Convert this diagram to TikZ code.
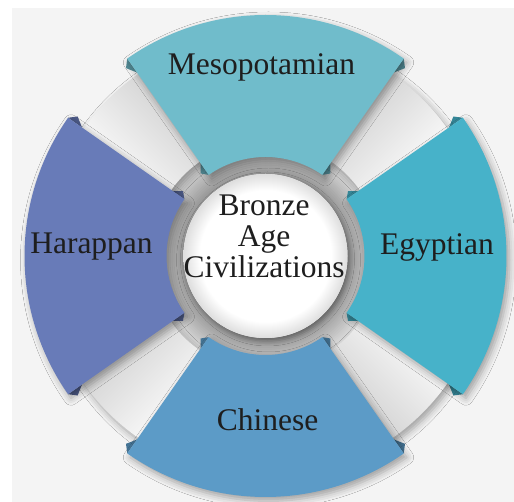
\documentclass[tikz,border=0pt]{standalone}
\usepackage{fontspec}
\setmainfont{Liberation Serif}
\usetikzlibrary{shadows.blur}
\definecolor{meso}{RGB}{112,188,203}
\definecolor{egypt}{RGB}{71,178,201}
\definecolor{chin}{RGB}{92,155,199}
\definecolor{harap}{RGB}{104,123,184}
\definecolor{bgcol}{RGB}{244,244,244}
\definecolor{strapcol}{RGB}{252,252,252}
\definecolor{txtcol}{RGB}{30,30,30}
\pgfdeclareradialshading{hubshade}{\pgfpoint{0bp}{0bp}}{color(0bp)=(white); color(20bp)=(white); color(25bp)=(black!13); color(50bp)=(black!13)}
\tikzset{
  softshadow/.style={blur shadow={shadow xshift=3pt, shadow yshift=-4pt, shadow blur radius=7pt, shadow opacity=35}},
  lbl/.style={font=\fontsize{31.5pt}{31pt}\selectfont, text=txtcol, inner sep=0pt, anchor=base},
}
\begin{document}
\begin{tikzpicture}[x=1pt,y=1pt]
\useasboundingbox (0,0) rectangle (514,502);
\fill[bgcol] (12,0) rectangle (514,494);
\begin{scope}[shift={(265.5,246)}]
  % recessed grey ring around the hub
  \foreach \i [evaluate=\i as \r using 118-2*\i, evaluate=\i as \g using 12+1.7*\i] in {0,...,17}
    \fill[black!\g!white] (0,0) circle[radius=\r pt];
  % dark folded slivers at the corners of the sectors
  \foreach \a/\c in {90/meso,0/egypt,180/harap,270/chin}{
    \foreach \s in {-1,1}{
      \fill[\c!75!black] ({\a+\s*35}:241pt) -- ({\a+\s*36.6}:234pt) -- ({\a+\s*35}:224pt) -- cycle;
      \fill[\c!75!black] ({\a+\s*35}:99pt) -- ({\a+\s*38.2}:105pt) -- ({\a+\s*35}:113pt) -- cycle;
    }
  }
  % white straps of the ring
  \foreach \g/\t in {45/45,135/-45,225/45,315/135}
    \shade[top color=black!20, middle color=strapcol, bottom color=white, shading angle=\t, softshadow]
      ({\g-12}:222pt) arc[start angle=\g-12, end angle=\g+12, radius=222pt]
      -- ({\g+12}:115pt) arc[start angle=\g+12, end angle=\g-12, radius=115pt] -- cycle;
  % coloured sectors
  \foreach \a/\c in {90/meso,0/egypt,180/harap,270/chin}
    \fill[\c, softshadow] ({\a-35}:241pt) arc[start angle=\a-35, end angle=\a+35, radius=241pt]
      -- ({\a+35}:99pt) arc[start angle=\a+35, end angle=\a-35, radius=99pt] -- cycle;
  % hub
  \fill[white, blur shadow={shadow xshift=2pt, shadow yshift=-3pt, shadow blur radius=5pt, shadow opacity=35}] (0,0) circle[radius=82pt];
  \shade[shading=hubshade] (0,0) circle[radius=82pt];
\end{scope}
\node[lbl] (meso) at (261.5,427) {Mesopotamian};
\node[lbl] (harap) at (91.5,248) {Harappan};
\node[lbl] (egypt) at (437,247) {Egyptian};
\node[lbl] (chin) at (267.5,71) {Chinese};
\node[lbl, align=center, anchor=center] (hub) at (264,265.5) {Bronze\\Age\\Civilizations};
\end{tikzpicture}
\end{document}
